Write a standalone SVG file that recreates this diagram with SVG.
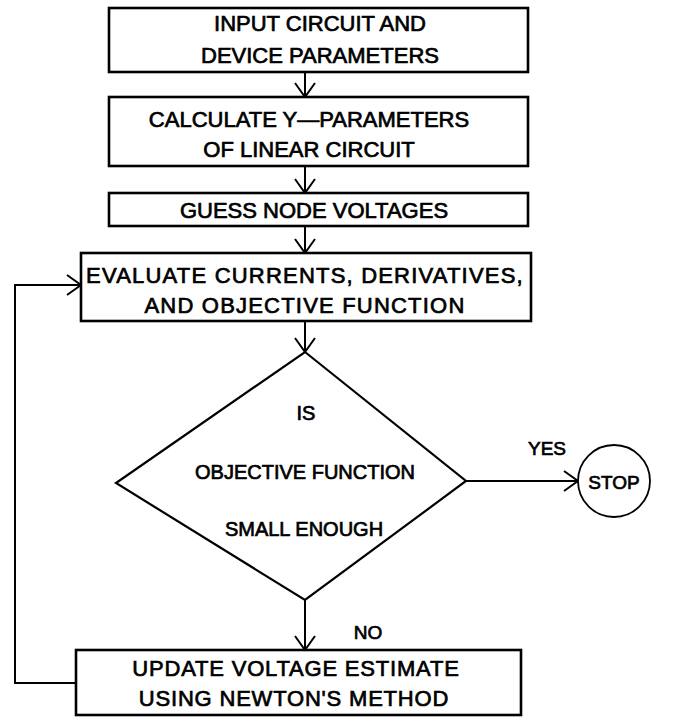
<svg xmlns="http://www.w3.org/2000/svg" width="676" height="718" viewBox="0 0 676 718">
<style>
.box{fill:#fff;stroke:#000;stroke-width:2.6}
.dia{fill:none;stroke:#000;stroke-width:2.2;stroke-linejoin:miter}
.circ{fill:#fff;stroke:#000;stroke-width:1.8}
.t{font-family:"Liberation Sans",Arial,sans-serif;font-size:22px;fill:#000;stroke:#000;stroke-width:0.7;text-anchor:middle}
.s{font-size:19px}
.d{font-size:20px}
.c{fill:none;stroke:#000;stroke-width:2}
</style>
<defs>
<marker id="ah" viewBox="0 0 16 22" refX="15" refY="11" markerWidth="16" markerHeight="22" markerUnits="userSpaceOnUse" orient="auto">
<path d="M1,1 L15,11 L1,21" fill="none" stroke="#000" stroke-width="2"/>
</marker>
</defs>
<rect width="676" height="718" fill="#fff"/>
<g id="connectors">
<line class="c" x1="305" y1="72" x2="305" y2="97" marker-end="url(#ah)"/>
<line class="c" x1="305" y1="166" x2="305" y2="193" marker-end="url(#ah)"/>
<line class="c" x1="305" y1="226" x2="305" y2="253" marker-end="url(#ah)"/>
<line class="c" x1="305" y1="321" x2="305" y2="352" marker-end="url(#ah)"/>
<line class="c" x1="305" y1="600" x2="305" y2="650" marker-end="url(#ah)"/>
<line class="c" x1="466" y1="481" x2="578" y2="481" marker-end="url(#ah)"/>
<polyline class="c" points="76,683 15,683 15,285 81,285" marker-end="url(#ah)"/>
<text class="t s" x="547" y="455">YES</text>
<text class="t s" x="368" y="639">NO</text>
</g>
<g id="input">
<rect class="box" x="109" y="8" width="419" height="64"/>
<text class="t" x="320" y="31">INPUT CIRCUIT AND</text>
<text class="t" x="320" y="63">DEVICE PARAMETERS</text>
</g>
<g id="calc">
<rect class="box" x="109" y="97" width="419" height="69"/>
<text class="t" x="309" y="127">CALCULATE Y—PARAMETERS</text>
<text class="t" x="309" y="157">OF LINEAR CIRCUIT</text>
</g>
<g id="guess">
<rect class="box" x="109" y="193" width="419" height="33"/>
<text class="t" x="314" y="218">GUESS NODE VOLTAGES</text>
</g>
<g id="evaluate">
<rect class="box" x="81" y="253" width="450" height="68"/>
<text class="t" x="305" y="283" letter-spacing="1.2">EVALUATE CURRENTS, DERIVATIVES,</text>
<text class="t" x="305" y="313" letter-spacing="1.2">AND OBJECTIVE FUNCTION</text>
</g>
<g id="decision">
<polygon class="dia" points="305,352 466,481 305,600 116,483"/>
<text class="t d" x="306" y="420">IS</text>
<text class="t d" x="305" y="479">OBJECTIVE FUNCTION</text>
<text class="t d" x="304" y="536">SMALL ENOUGH</text>
</g>
<g id="stop">
<circle class="circ" cx="614" cy="481" r="36"/>
<text class="t s" x="614" y="489">STOP</text>
</g>
<g id="update">
<rect class="box" x="76" y="650" width="445" height="65"/>
<text class="t" x="296" y="676" letter-spacing="0.8">UPDATE VOLTAGE ESTIMATE</text>
<text class="t" x="294" y="706" letter-spacing="0.8">USING NEWTON'S METHOD</text>
</g>
</svg>
